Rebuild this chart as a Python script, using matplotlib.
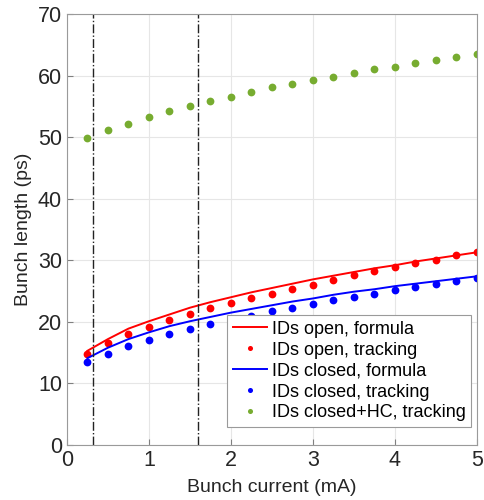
import matplotlib
matplotlib.use('Agg')
from matplotlib import pyplot

# bunch current (mA)
current = [0.25, 0.5, 0.75, 1.0, 1.25, 1.5, 1.75, 2.0, 2.25, 2.5,
           2.75, 3.0, 3.25, 3.5, 3.75, 4.0, 4.25, 4.5, 4.75, 5.0]

# bunch length (ps)
open_formula = [15.3, 17.2, 18.9, 20.1, 21.2, 22.3, 23.2, 24.0, 24.8, 25.5,
                26.2, 26.9, 27.5, 28.1, 28.7, 29.2, 29.8, 30.3, 30.8, 31.3]
open_tracking = [14.7, 16.6, 18.0, 19.2, 20.3, 21.3, 22.2, 23.0, 23.9, 24.6,
                 25.3, 26.0, 26.8, 27.6, 28.3, 28.9, 29.5, 30.0, 30.9, 31.3]
closed_formula = [14.1, 15.8, 17.2, 18.3, 19.3, 20.1, 20.8, 21.5, 22.1, 22.7,
                  23.3, 23.8, 24.4, 24.9, 25.3, 25.8, 26.2, 26.6, 27.0, 27.4]
closed_tracking = [13.4, 14.8, 16.0, 17.1, 18.0, 18.8, 19.6, 20.3, 21.0, 21.7,
                   22.3, 22.9, 23.5, 24.1, 24.6, 25.2, 25.7, 26.1, 26.7, 27.2]
hc_tracking = [49.8, 51.1, 52.2, 53.2, 54.2, 55.1, 55.9, 56.6, 57.4, 58.1,
               58.7, 59.3, 59.8, 60.4, 61.0, 61.4, 62.0, 62.5, 63.0, 63.5]

marker_currents = [0.32, 1.6]

GREEN = '#77AC30'
TXT = '#262626'

pyplot.rcParams['font.family'] = ['Liberation Sans', 'DejaVu Sans']

f = pyplot.figure(figsize=(4.85, 5.0), dpi=100)
ax = f.add_axes([0.138, 0.11, 0.8455, 0.862])

ax.plot(current, open_formula, '-', color='red', lw=1.4, label='IDs open, formula')
ax.plot(current, open_tracking, 'o', color='red', ms=5.6, mew=0, label='IDs open, tracking')
ax.plot(current, closed_formula, '-', color='blue', lw=1.4, label='IDs closed, formula')
ax.plot(current, closed_tracking, 'o', color='blue', ms=5.6, mew=0, label='IDs closed, tracking')
ax.plot(current, hc_tracking, 'o', color=GREEN, ms=5.6, mew=0, label='IDs closed+HC, tracking')

for xc in marker_currents:
    ax.axvline(xc, color='#222222', lw=1.0, ls='-.')

ax.set_xlim(0, 5)
ax.set_ylim(0, 70)
ax.set_xticks(range(0, 6))
ax.set_yticks(range(0, 71, 10))
ax.grid(True, color='#e6e6e6', lw=0.8)
ax.set_axisbelow(True)
ax.tick_params(direction='in', length=4, colors='#808080', labelcolor=TXT, labelsize=15.5)
for s in ax.spines.values():
    s.set_color('#9a9a9a')

ax.set_xlabel('Bunch current (mA)', fontsize=14, color=TXT, labelpad=6)
ax.set_ylabel('Bunch length (ps)', fontsize=14, color=TXT, labelpad=4)

leg = ax.legend(loc='lower right', fontsize=13, frameon=True, fancybox=False,
                edgecolor='#9a9a9a', framealpha=1, borderpad=0.3, labelspacing=0.22,
                handlelength=1.9, handletextpad=0.25, markerscale=0.65,
                borderaxespad=0, bbox_to_anchor=(0.985, 0.042))
leg.get_frame().set_linewidth(0.8)

f.savefig('out.png', dpi=100)
